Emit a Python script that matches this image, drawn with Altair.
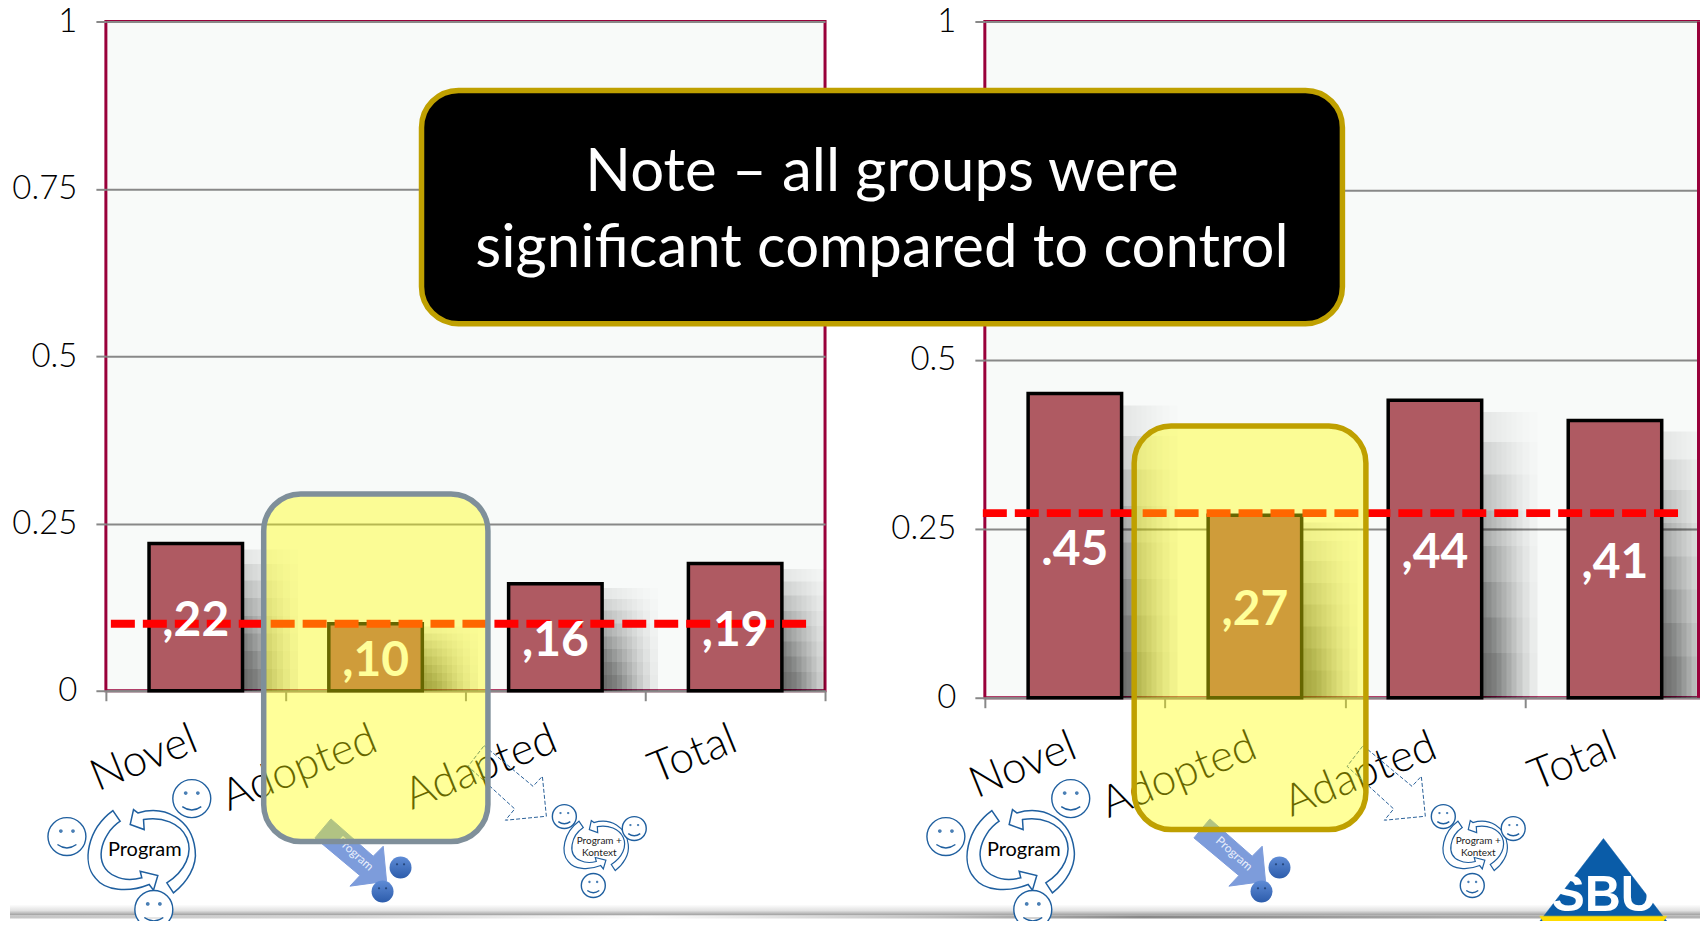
import altair as alt
import pandas as pd

categories = ["Novel", "Adopted", "Adapted", "Total"]
left_values = [0.22, 0.10, 0.16, 0.19]
right_values = [0.45, 0.27, 0.44, 0.41]
left_labels = [",22", ",10", ",16", ",19"]
right_labels = [".45", ",27", ",44", ",41"]
left_reference = [0.10]
right_reference = [0.273]
y_ticks = [0, 0.25, 0.5, 0.75, 1]
note_lines = ["Note – all groups were", "significant compared to control"]

LEFT_X0, RIGHT_X0, TOP_Y0 = 104, 984, 21
GRAY = "#888888"
CRIMSON = "#99003a"
FONT = "Lato"
ONE = pd.DataFrame({"a": [0]})


def table(vals, labels):
    return pd.DataFrame({"cat": categories, "value": vals, "label": labels})


def fmt(cmds, cx=0, cy=0, k=1.0):
    out = []
    for c, pts in cmds:
        out.append(c + " " + " ".join(f"{(x - cx) * k:.2f} {(y - cy) * k:.2f}" for x, y in pts))
    return " ".join(out)


def circle(cx, cy, rx, ry=None):
    ry = rx if ry is None else ry
    m = 0.5523
    return (
        f"M {cx - rx} {cy} C {cx - rx} {cy - m * ry} {cx - m * rx} {cy - ry} {cx} {cy - ry} "
        f"C {cx + m * rx} {cy - ry} {cx + rx} {cy - m * ry} {cx + rx} {cy} "
        f"C {cx + rx} {cy + m * ry} {cx + m * rx} {cy + ry} {cx} {cy + ry} "
        f"C {cx - m * rx} {cy + ry} {cx - rx} {cy + m * ry} {cx - rx} {cy} Z"
    )


SMILE_PATH = circle(0, 0, 1) + " M -0.5 0.42 Q 0 0.78 0.5 0.42"
EYES_PATH = circle(-0.32, -0.29, 0.1) + " " + circle(0.32, -0.29, 0.1)

ARROW_A = [
    ("M", [(243, 123)]), ("L", [(265, 155)]),
    ("C", [(205, 195), (180, 290), (250, 320)]),
    ("C", [(280, 335), (310, 330), (330, 325)]),
    ("L", [(325, 305), (378, 318), (365, 362), (352, 345)]),
    ("C", [(290, 370), (220, 365), (190, 325)]),
    ("C", [(150, 280), (165, 180), (243, 123)]), ("Z", []),
]
ARROW_B = [
    ("M", [(295, 165)]), ("L", [(305, 120), (318, 130)]),
    ("C", [(400, 105), (480, 150), (490, 240)]),
    ("C", [(497, 290), (465, 340), (425, 370)]),
    ("L", [(405, 340)]),
    ("C", [(460, 305), (485, 250), (465, 205)]),
    ("C", [(445, 160), (390, 140), (335, 150)]),
    ("L", [(337, 180)]), ("Z", []),
]
ADOPT_ARROW = [
    ("M", [(88, 58)]),
    ("L", [(215, 170), (245, 140), (255, 245), (145, 260), (175, 228), (40, 115)]),
    ("Z", []),
]
DASH_ARROW = [
    ("M", [(68, 48)]),
    ("L", [(215, 170), (243, 140), (255, 260), (132, 272), (160, 238), (20, 110)]),
    ("Z", []),
]
LOGO_BLUE = [("M", [(286, 57)]), ("L", [(476, 305), (95, 305)]), ("Z", [])]
LOGO_YELLOW = [("M", [(95, 305)]), ("L", [(476, 305), (466, 321), (105, 321)]), ("Z", [])]


def shape(path, px, py, x0, size=4, fill="#ffffff", stroke="#1f5f9f", sw=1.5, **kw):
    return alt.Chart(ONE).mark_point(
        shape=path, size=size, filled=True, fill=fill, stroke=stroke, strokeWidth=sw, opacity=1, **kw
    ).encode(x=alt.value(px - x0), y=alt.value(py - TOP_Y0))


def label(txt, px, py, x0, size, color="#000000", weight=400, angle=0, font=FONT):
    return alt.Chart(ONE).mark_text(
        text=txt, fontSize=size, color=color, fontWeight=weight, font=font, angle=angle,
        align="center", baseline="alphabetic",
    ).encode(x=alt.value(px - x0), y=alt.value(py - TOP_Y0))


def round_box(x1, y1, x2, y2, x0, stroke, fill, fill_opacity):
    return alt.Chart(ONE).mark_rect(
        fill=fill, fillOpacity=fill_opacity, stroke=stroke, strokeWidth=5.5, cornerRadius=37
    ).encode(
        x=alt.value(x1 - x0), x2=alt.value(x2 - x0),
        y=alt.value(y1 - TOP_Y0), y2=alt.value(y2 - TOP_Y0),
    )


def icons(x0, dx):
    smileys = pd.DataFrame({
        "x": [65, 190, 152, 563, 633, 592],
        "y": [837, 799, 910, 817, 829, 886],
        "r": [19, 19, 19, 12, 12, 12],
    })
    smileys["px"] = smileys.x + dx - x0
    smileys["py"] = smileys.y - TOP_Y0
    smileys["s"] = 4 * smileys.r ** 2
    balls = pd.DataFrame({"x": [399, 381], "y": [868, 892]})
    balls["px"] = balls.x + dx - x0
    balls["py"] = balls.y - TOP_Y0
    enc = dict(x=alt.X("px:Q", scale=None), y=alt.Y("py:Q", scale=None))
    grad = alt.LinearGradient(
        gradient="linear", x1=0, x2=0, y1=0, y2=1,
        stops=[alt.GradientStop(color="#5f8cd6", offset=0), alt.GradientStop(color="#2c5cab", offset=1)],
    )
    layers = []
    for cmds in (ARROW_A, ARROW_B):
        layers.append(shape(fmt(cmds, 330, 240, 1 / 3), 140 + dx, 850, x0))
        layers.append(shape(fmt(cmds, 330, 240, 0.6 / 3), 595 + dx, 845, x0, sw=1.2))
    layers += [
        alt.Chart(smileys).mark_point(
            shape=SMILE_PATH, filled=True, fill="#ffffff", stroke="#1f5f9f", strokeWidth=1.4, opacity=1
        ).encode(size=alt.Size("s:Q", scale=None), **enc),
        alt.Chart(smileys).mark_point(
            shape=EYES_PATH, filled=True, fill="#4a7fb5", strokeWidth=0, opacity=1
        ).encode(size=alt.Size("s:Q", scale=None), **enc),
        label("Program", 143 + dx, 856, x0, 20),
        label("Program +", 598 + dx, 844, x0, 10, color="#222222"),
        label("Kontext", 598 + dx, 856, x0, 10, color="#222222"),
        shape(fmt(DASH_ARROW, 0, 0, 1 / 3), 460 + dx, 730, x0, fill="#ffffff", stroke="#2a6099", sw=1,
              strokeDash=[4, 2], fillOpacity=0),
        shape(fmt(ADOPT_ARROW, 0, 0, 1 / 3), 300 + dx, 800, x0, fill="#7d9cdb", stroke="#7d9cdb", sw=1),
        label("Program", 351 + dx, 857, x0, 12, color="#e8eefc", angle=42),
        alt.Chart(balls).mark_point(
            shape="circle", filled=True, fill=grad, strokeWidth=0, opacity=1, size=484
        ).encode(**enc),
        alt.Chart(balls).mark_point(
            shape=EYES_PATH, filled=True, fill="#27497f", strokeWidth=0, opacity=1, size=484
        ).encode(**enc),
    ]
    return layers


def panel(values, labels, reference, x0, plot_w, plot_h, ref_x, box, box_stroke, dx, extra_front=(), extra_back=()):
    data = table(values, labels)
    xscale = alt.Scale(domain=categories, paddingInner=0, paddingOuter=0)
    yscale = alt.Scale(domain=[0, 1], nice=False)
    xaxis = alt.Axis(
        title=None, tickBand="extent", labelAngle=-22, labelAlign="right", labelBaseline="alphabetic",
        labelPadding=49, labelOffset=4, labelFontSize=44, labelFont=FONT, labelFontWeight=300,
        labelColor="#000000", labelOverlap=False, labelBound=False, tickSize=10, tickWidth=2, tickColor=GRAY,
        domainColor=GRAY, domainWidth=2, grid=False,
    )
    yaxis = alt.Axis(
        title=None, values=y_ticks, format=".2~f", labelFontSize=33, labelFont=FONT, labelFontWeight=300,
        labelColor="#000000", labelPadding=19, tickSize=10, tickWidth=2, tickColor=GRAY, domain=False,
        grid=True, gridColor=GRAY, gridWidth=2, gridOpacity=1, labelBound=False,
    )
    x = alt.X("cat:N", sort=None, scale=xscale, axis=xaxis)
    bar_w = 93.6
    layers = list(extra_back)
    for ext in (5, 10, 15, 20, 25, 30, 35, 41, 48, 56):
        for frac in (0.15, 0.27, 0.39, 0.51, 0.63, 0.75, 0.86, 0.96):
            layers.append(
                alt.Chart(data).transform_calculate(shade=f"datum.value*{frac}").mark_bar(
                    width=bar_w + ext, xOffset=ext / 2, color="#000000", opacity=0.0072, clip=True
                ).encode(x=x, y=alt.Y("shade:Q", scale=yscale, axis=yaxis), y2=alt.datum(0))
            )
    layers.append(
        alt.Chart(data).mark_bar(
            width=bar_w, color="#af5a62", stroke="#000000", strokeWidth=3.5, opacity=1
        ).encode(x=x, y=alt.Y("value:Q", scale=yscale, axis=yaxis), y2=alt.datum(0))
    )
    layers.append(
        alt.Chart(pd.DataFrame({"value": reference})).mark_rule(
            color="#ff0000", strokeWidth=8, strokeDash=[24, 8], opacity=1
        ).encode(
            y=alt.Y("value:Q", scale=yscale, axis=yaxis),
            x=alt.value(ref_x[0]), x2=alt.value(ref_x[1]),
        )
    )
    layers.append(
        alt.Chart(data).transform_calculate(mid="datum.value/2").mark_text(
            font=FONT, fontWeight=700, fontSize=48, color="#ffffff", dy=5
        ).encode(x=x, y=alt.Y("mid:Q", scale=yscale, axis=yaxis), text="label:N")
    )
    layers += icons(x0, dx)
    layers.append(round_box(*box, x0, box_stroke, "#ffff00", 0.4))
    layers += list(extra_front)
    return alt.layer(*layers).properties(width=plot_w, height=plot_h)


def grad_rect(x1, y1, x2, y2, x0, stops, vertical):
    g = alt.LinearGradient(
        gradient="linear", x1=0, y1=0, x2=0 if vertical else 1, y2=1 if vertical else 0,
        stops=[alt.GradientStop(color=c, offset=o) for o, c in stops],
    )
    return alt.Chart(ONE).mark_rect(fill=g).encode(
        x=alt.value(x1 - x0), x2=alt.value(x2 - x0),
        y=alt.value(y1 - TOP_Y0), y2=alt.value(y2 - TOP_Y0),
    )


page = alt.Chart(ONE).mark_rect(fill="#ffffff", fillOpacity=0).encode(
    x=alt.value(8 - LEFT_X0), x2=alt.value(1700 - LEFT_X0),
    y=alt.value(8 - TOP_Y0), y2=alt.value(919 - TOP_Y0),
)
strip_back = [
    page,
    grad_rect(8, 905, 1700, 916, LEFT_X0,
              [(0, "#ffffff"), (0.55, "#e2e2e2"), (1, "#9a9a9a")], True),
    grad_rect(8, 916, 1700, 919, LEFT_X0,
              [(0, "#c6c6c6"), (0.2, "#d4d4d4"), (0.375, "#fbfbfb"), (0.55, "#c0c0c0"),
               (0.67, "#888888"), (0.85, "#a8a8a8"), (1, "#b4b4b4")], False),
]

front = [round_box(420, 90, 1342, 323.5, RIGHT_X0, "#bfa000", "#000000", 1)]
front += [
    label(note_lines[0], 881, 191, RIGHT_X0, 60, color="#ffffff"),
    label(note_lines[1], 881, 267, RIGHT_X0, 60, color="#ffffff"),
    shape(fmt(LOGO_BLUE, 0, 0, 1 / 3), 1508, 820, RIGHT_X0, fill="#0a5ca8", stroke="#0a5ca8", sw=0.5),
    shape(fmt(LOGO_YELLOW, 0, 0, 1 / 3), 1508, 815, RIGHT_X0, fill="#ffdc00", stroke="#ffdc00", sw=0.5),
    label("SBU", 1604, 912, RIGHT_X0, 50, color="#ffffff", weight=700, font="Liberation Sans"),
    alt.Chart(ONE).mark_rule(color=CRIMSON, strokeWidth=3).encode(
        x=alt.value(1698.5 - RIGHT_X0), y=alt.value(0), y2=alt.value(677)
    ),
]

left = panel(left_values, left_labels, left_reference, LEFT_X0, 720, 670, (5, 701),
             (262, 494, 486.5, 842), "#7f8f9a", 0, extra_back=strip_back)
right = panel(right_values, right_labels, right_reference, RIGHT_X0, 721, 677, (-2, 697),
              (1133.5, 426, 1365.5, 830), "#bfa000", 880, extra_front=front)

chart = alt.hconcat(left, right, spacing=160, bounds="flush").configure_view(
    fill="#f8faf9", stroke=CRIMSON, strokeWidth=3
).properties(padding={"top": -5, "left": 0, "right": -8, "bottom": -13}, background="#ffffff")

chart.save("out.html", embed_options={"renderer": "svg", "actions": False})
